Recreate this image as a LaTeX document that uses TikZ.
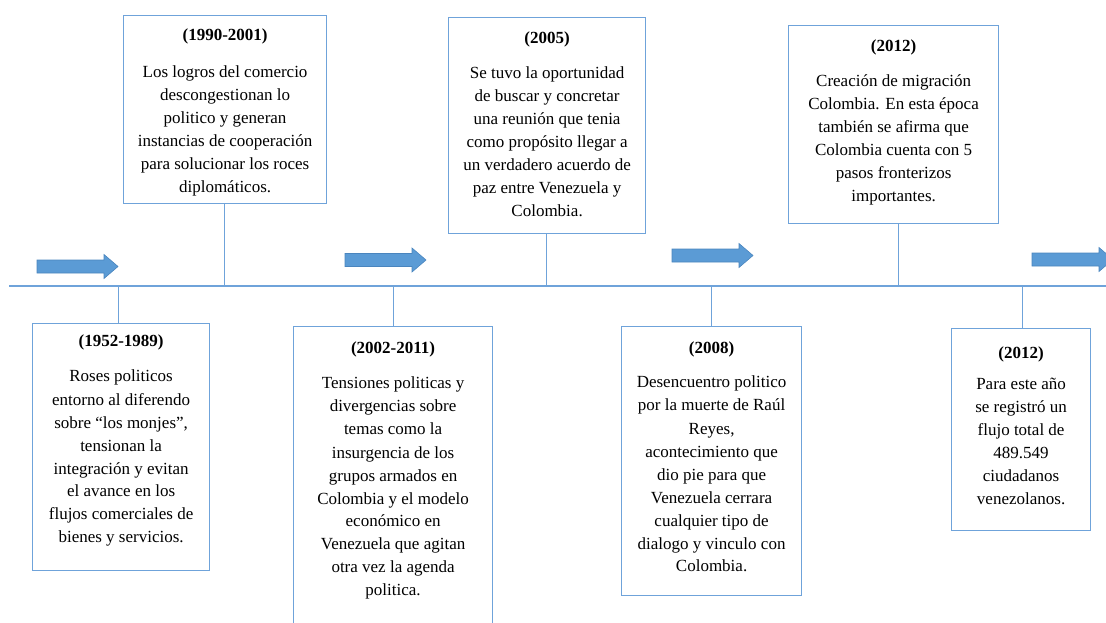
\documentclass[tikz,border=0pt]{standalone}
\usepackage{fontspec}
\setmainfont{Liberation Serif}
\definecolor{lineblue}{HTML}{6FA3DA}
\definecolor{arrowfill}{HTML}{5B9BD5}
\definecolor{arrowedge}{HTML}{4A85BE}
\newcommand{\myblockarrow}[2]{%
  \path[blockarrow] (#1,#2-6.5) -- ++(67,0) -- ++(0,-5.5) -- ++(14,12) -- ++(-14,12) -- ++(0,-5.5) -- ++(-67,0) -- cycle;}
\begin{document}
\begin{tikzpicture}[x=1pt,y=-1pt,
  box/.style={draw=lineblue, line width=1.2pt, inner sep=0pt, fill=white, anchor=north west},
  conn/.style={draw=lineblue, line width=1.2pt},
  txt/.style={align=center, inner sep=0pt, anchor=north, font=\fontsize{17}{23}\selectfont},
  blockarrow/.style={fill=arrowfill, draw=arrowedge, line width=0.6pt}]
\useasboundingbox (0,0) rectangle (1106,623);
\clip (0,0) rectangle (1106,623);

% timeline
\coordinate (tlstart) at (9,286);
\coordinate (tlend) at (1106,286);
\draw[conn] (tlstart) -- (tlend);

% boxes
\node[box, minimum width=177pt, minimum height=247pt] (b1) at (32,323) {};
\node[box, minimum width=203pt, minimum height=188pt] (b2) at (123,15) {};
\node[box, minimum width=199pt, minimum height=314pt] (b3) at (293,326) {};
\node[box, minimum width=197pt, minimum height=216pt] (b4) at (448,17) {};
\node[box, minimum width=180pt, minimum height=269pt] (b5) at (621,326) {};
\node[box, minimum width=210pt, minimum height=198pt] (b6) at (788,25) {};
\node[box, minimum width=139pt, minimum height=202pt] (b7) at (951,328) {};

% connectors
\draw[conn] ([xshift=-3pt]b1.north) -- ([xshift=-3pt]b1.north |- tlstart);
\draw[conn] ([xshift=-1pt]b2.south) -- ([xshift=-1pt]b2.south |- tlstart);
\draw[conn] (b3.north) -- (b3.north |- tlstart);
\draw[conn] ([xshift=-1pt]b4.south) -- ([xshift=-1pt]b4.south |- tlstart);
\draw[conn] (b5.north) -- (b5.north |- tlstart);
\draw[conn] ([xshift=5pt]b6.south) -- ([xshift=5pt]b6.south |- tlstart);
\draw[conn] ([xshift=1pt]b7.north) -- ([xshift=1pt]b7.north |- tlstart);

% texts
\node[txt] (t1) at ([yshift=-11pt]b1.north) {\textbf{(1952-1989)}\\[13pt]
Roses politicos\\ entorno al diferendo\\ sobre “los monjes”,\\ tensionan la\\ integración y evitan\\ el avance en los\\ flujos comerciales de\\ bienes y servicios.};
\node[txt] (t2) at ([yshift=-14pt]b2.north) {\textbf{(1990-2001)}\\[14pt]
Los logros del comercio\\ descongestionan lo\\ politico y generan\\ instancias de cooperación\\ para solucionar los roces\\ diplomáticos.};
\node[txt] (t3) at ([yshift=-15pt]b3.north) {\textbf{(2002-2011)}\\[13pt]
Tensiones politicas y\\ divergencias sobre\\ temas como la\\ insurgencia de los\\ grupos armados en\\ Colombia y el modelo\\ económico en\\ Venezuela que agitan\\ otra vez la agenda\\ politica.};
\node[txt] (t4) at ([yshift=-15pt]b4.north) {\textbf{(2005)}\\[12pt]
Se tuvo la oportunidad\\ de buscar y concretar\\ una reunión que tenia\\ como propósito llegar a\\ un verdadero acuerdo de\\ paz entre Venezuela y\\ Colombia.};
\node[txt] (t5) at ([yshift=-15pt]b5.north) {\textbf{(2008)}\\[12pt]
Desencuentro politico\\ por la muerte de Raúl\\ Reyes,\\ acontecimiento que\\ dio pie para que\\ Venezuela cerrara\\ cualquier tipo de\\ dialogo y vinculo con\\ Colombia.};
\node[txt] (t6) at ([yshift=-15pt]b6.north) {\textbf{(2012)}\\[12pt]
Creación de migración\\ Colombia. En esta época\\ también se afirma que\\ Colombia cuenta con 5\\ pasos fronterizos\\ importantes.};
\node[txt] (t7) at ([yshift=-19pt]b7.north) {\textbf{(2012)}\\[8pt]
Para este año\\ se registró un\\ flujo total de\\ 489.549\\ ciudadanos\\ venezolanos.};

% block arrows
\myblockarrow{37}{266.5}
\myblockarrow{345}{260}
\myblockarrow{672}{255.5}
\myblockarrow{1032}{259.5}
\end{tikzpicture}
\end{document}
